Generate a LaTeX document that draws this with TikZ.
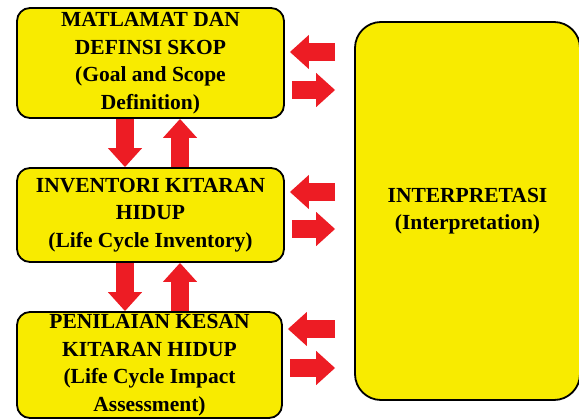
\documentclass[tikz,border=0pt]{standalone}
\usepackage{fontspec}
\setmainfont{Liberation Serif}
\usepackage{xcolor}
\usetikzlibrary{arrows.meta,positioning,calc}

\definecolor{lcayellow}{HTML}{F8EB00}
\definecolor{lcared}{HTML}{ED1C24}

\begin{document}
\begin{tikzpicture}[
    x=1pt, y=-1pt,
    phase/.style={draw, line width=1.8pt, rounded corners=13pt, fill=lcayellow, minimum width=267pt, align=center, font=\bfseries\fontsize{21.5}{27.5}\selectfont, inner sep=0pt},
    bigarrow/.style={draw=lcared, line width=18pt, -{Triangle[length=19pt,width=33pt]}, lcared},
]
\useasboundingbox (0,0) rectangle (579,420);

\node[phase, minimum height=110pt] (goal)   at (150.5,63)  {MATLAMAT DAN\\DEFINSI SKOP\\(Goal and Scope\\Definition)};
\node[phase, minimum height=94pt]  (lci)    at (150.5,215) {INVENTORI KITARAN\\HIDUP\\(Life Cycle Inventory)};
\node[phase, minimum height=106pt, minimum width=265pt] (lcia) at (149.5,365) {PENILAIAN KESAN\\KITARAN HIDUP\\(Life Cycle Impact\\Assessment)};
\node[phase, minimum width=225pt, minimum height=378pt, rounded corners=26pt] (interp) at (467.5,211) {INTERPRETASI\\(Interpretation)};

% vertical links
\draw[bigarrow] ([xshift=-25.5pt]goal.south) -- ([xshift=-25.5pt]lci.north);
\draw[bigarrow] ([xshift=29.5pt]lci.north) -- ([xshift=29.5pt]goal.south);
\draw[bigarrow] ([xshift=-25.5pt]lci.south) -- ([xshift=-24.5pt]lcia.north);
\draw[bigarrow] ([xshift=30.5pt]lcia.north) -- ([xshift=29.5pt]lci.south);

% links to interpretation
\draw[bigarrow, shorten <=19pt, shorten >=5pt] (interp.west |- 0,52)  -- (goal.east |- 0,52);
\draw[bigarrow, shorten <=7pt, shorten >=19pt] (goal.east |- 0,90)    -- (interp.west |- 0,90);
\draw[bigarrow, shorten <=19pt, shorten >=5pt] (interp.west |- 0,192) -- (lci.east |- 0,192);
\draw[bigarrow, shorten <=7pt, shorten >=19pt] (lci.east |- 0,229)    -- (interp.west |- 0,229);
\draw[bigarrow, shorten <=19pt, shorten >=5pt] (interp.west |- 0,329) -- (lcia.east |- 0,329);
\draw[bigarrow, shorten <=7pt, shorten >=19pt] (lcia.east |- 0,368)   -- (interp.west |- 0,368);
\end{tikzpicture}
\end{document}
